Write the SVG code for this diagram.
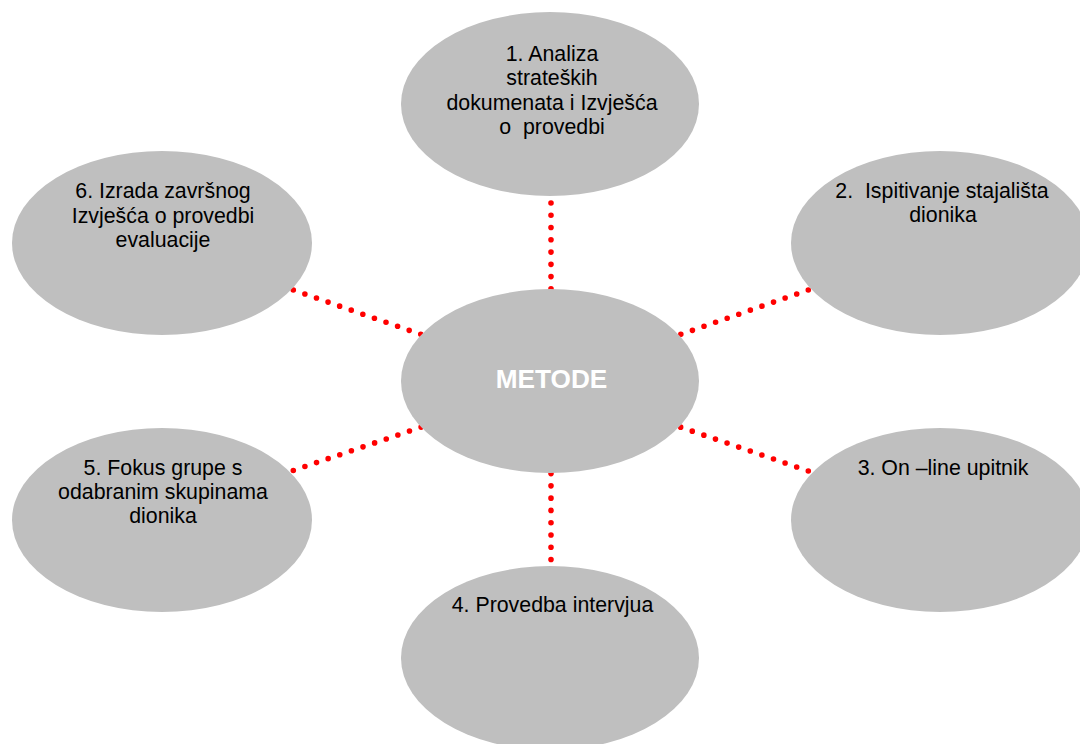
<svg xmlns="http://www.w3.org/2000/svg" width="1080" height="744" viewBox="0 0 1080 744">
<style>
.node{fill:#BFBFBF}
.lbl{font-family:"Liberation Sans",Arial,sans-serif;font-size:21.33px;fill:#000;text-anchor:middle}
.ctr{font-family:"Liberation Sans",Arial,sans-serif;font-size:26.2px;font-weight:bold;fill:#fff;text-anchor:middle}
.dot{stroke:#FF0000;stroke-width:5.6;stroke-linecap:round;stroke-dasharray:0 12.27;fill:none}
</style>
<rect width="1080" height="744" fill="#fff"/>
<g id="connectors">
<line class="dot" x1="551" y1="203" x2="551" y2="292"/>
<line class="dot" x1="551" y1="473.6" x2="551" y2="562"/>
<line class="dot" x1="293.3" y1="290" x2="422" y2="334.8"/>
<line class="dot" x1="293.3" y1="470.5" x2="422" y2="426.8"/>
<line class="dot" x1="808.3" y1="290" x2="679.6" y2="334.8"/>
<line class="dot" x1="808.3" y1="471" x2="679.6" y2="426.8"/>
</g>
<g id="n1">
<ellipse class="node" cx="550" cy="104" rx="149" ry="92"/>
<text class="lbl" x="552" y="60.5">1. Analiza</text>
<text class="lbl" x="552" y="85">strateških</text>
<text class="lbl" x="552" y="109.5">dokumenata i Izvješća</text>
<text class="lbl" x="552" y="134" xml:space="preserve">o  provedbi</text>
</g>
<g id="n2">
<ellipse class="node" cx="940" cy="243" rx="149" ry="92"/>
<text class="lbl" x="942" y="198" xml:space="preserve">2.  Ispitivanje stajališta</text>
<text class="lbl" x="943" y="222">dionika</text>
</g>
<g id="n3">
<ellipse class="node" cx="940" cy="520" rx="149" ry="92"/>
<text class="lbl" x="943" y="475">3. On –line upitnik</text>
</g>
<g id="n4">
<ellipse class="node" cx="550" cy="658" rx="149" ry="92"/>
<text class="lbl" x="552.5" y="612">4. Provedba intervjua</text>
</g>
<g id="n5">
<ellipse class="node" cx="162" cy="520" rx="150" ry="92"/>
<text class="lbl" x="163" y="474.5">5. Fokus grupe s</text>
<text class="lbl" x="163" y="499">odabranim skupinama</text>
<text class="lbl" x="163" y="523">dionika</text>
</g>
<g id="n6">
<ellipse class="node" cx="162" cy="243" rx="150" ry="92"/>
<text class="lbl" x="163" y="198">6. Izrada završnog</text>
<text class="lbl" x="163" y="222.5">Izvješća o provedbi</text>
<text class="lbl" x="163" y="246.5">evaluacije</text>
</g>
<g id="center">
<ellipse class="node" cx="550" cy="381" rx="149" ry="92"/>
<text class="ctr" x="551.5" y="387.5">METODE</text>
</g>
</svg>
